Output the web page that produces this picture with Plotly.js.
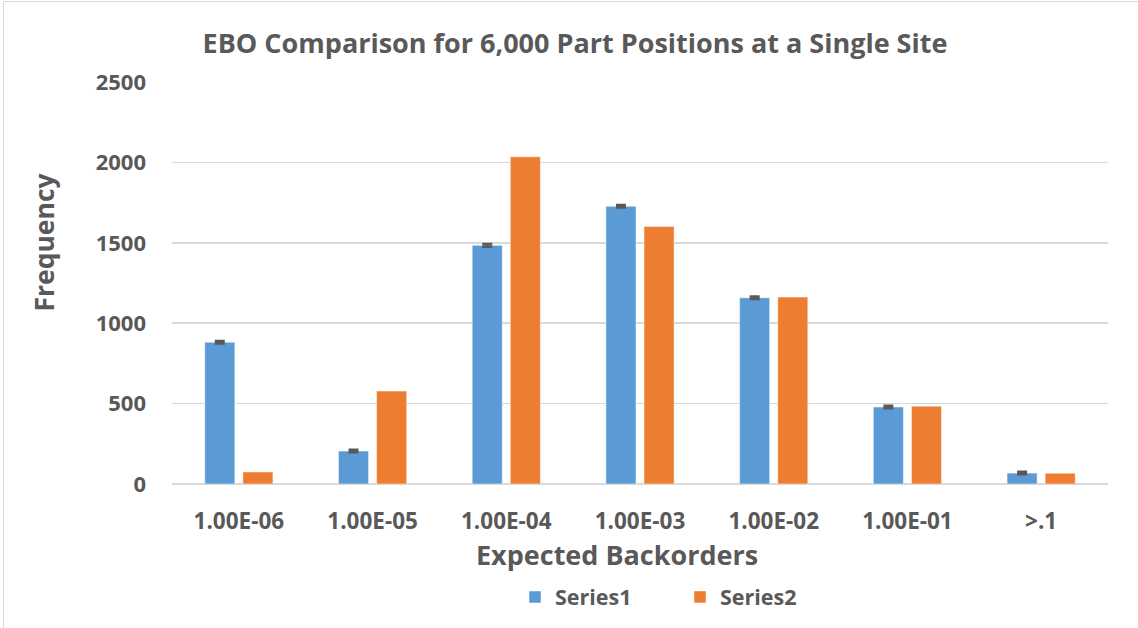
<!DOCTYPE html>
<html>
<head>
<meta charset="utf-8">
<script src="https://cdn.plot.ly/plotly-3.0.1.min.js"></script>
<style>
  html, body { margin: 0; padding: 0; background: #fff; }
  #wrap { position: relative; width: 1138px; height: 628px; overflow: hidden; }
  #chart { width: 1138px; height: 628px; }
  #frame { position: absolute; left: 3px; top: 1px; width: 1140px; height: 640px; border: 1px solid #d9d9d9; pointer-events: none; }
</style>
</head>
<body>
<div id="wrap">
  <div id="chart"></div>
  <div id="frame"></div>
</div>
<script>
const categories = ["1.00E-06", "1.00E-05", "1.00E-04", "1.00E-03", "1.00E-02", "1.00E-01", ">.1"];
const series1 = [882, 205, 1484, 1727, 1158, 479, 68];
const series2 = [75, 578, 2035, 1602, 1163, 484, 67];
const series1Err = [8, 8, 8, 8, 8, 8, 8];
const yTicks = [0, 500, 1000, 1500, 2000, 2500];

const grey = '#595959';
const font = "'Open Sans', sans-serif";

const traces = [
  {
    type: 'bar', name: 'Series1', x: categories, y: series1,
    marker: { color: '#5b9bd5', line: { color: '#ffffff', width: 0.5 } },
    error_y: { type: 'data', array: series1Err, visible: true, color: grey, thickness: 2.5, width: 5 }
  },
  {
    type: 'bar', name: 'Series2', x: categories, y: series2,
    marker: { color: '#ed7d31', line: { color: '#ffffff', width: 0.5 } }
  }
];

const layout = {
  width: 1138, height: 628,
  margin: { l: 172, r: 30, t: 82, b: 143 },
  paper_bgcolor: '#ffffff', plot_bgcolor: '#ffffff',
  barmode: 'group', bargap: 0.43, bargroupgap: 0.21,
  showlegend: true,
  font: { family: font, color: grey },
  title: {
    text: 'EBO Comparison for 6,000 Part Positions at a Single Site',
    font: { family: font, size: 27, color: grey, weight: 'bold' },
    x: 575 / 1138, xanchor: 'center', xref: 'container',
    y: 1 - 44 / 628, yanchor: 'middle', yref: 'container'
  },
  xaxis: {
    type: 'category',
    tickfont: { family: font, size: 22.5, color: grey, weight: 'bold' },
    showgrid: false, zeroline: false, showline: false, ticks: '',
    ticklabelstandoff: 21
  },
  yaxis: {
    range: [0, 2500], tickvals: yTicks,
    tickfont: { family: font, size: 22, color: grey, weight: 'bold' },
    showgrid: true, gridcolor: '#d9d9d9', gridwidth: 1.5,
    zeroline: true, zerolinecolor: '#d9d9d9', zerolinewidth: 1.5,
    showline: false, ticks: '', ticklabelstandoff: 25
  },
  legend: {
    orientation: 'h', xref: 'paper', yref: 'paper',
    x: (515 - 172) / 936, xanchor: 'left',
    y: -112 / 403, yanchor: 'middle',
    font: { family: font, size: 21.5, color: grey, weight: 'bold' },
    itemwidth: 30, entrywidth: 120, entrywidthmode: 'pixels', tracegroupgap: 0
  },
  annotations: [
    {
      text: 'Expected Backorders', showarrow: false,
      xref: 'paper', yref: 'paper',
      x: (617 - 172) / 936, xanchor: 'center',
      y: -(556 - 485) / 403, yanchor: 'middle',
      font: { family: font, size: 27, color: grey, weight: 'bold' }
    },
    {
      text: 'Frequency', showarrow: false, textangle: -90,
      xref: 'paper', yref: 'paper',
      x: -(172 - 44) / 936, xanchor: 'center',
      y: (485 - 243) / 403, yanchor: 'middle',
      font: { family: font, size: 26.5, color: grey, weight: 'bold' }
    }
  ]
};

Plotly.newPlot('chart', traces, layout, { displayModeBar: false, staticPlot: true });
</script>
</body>
</html>
